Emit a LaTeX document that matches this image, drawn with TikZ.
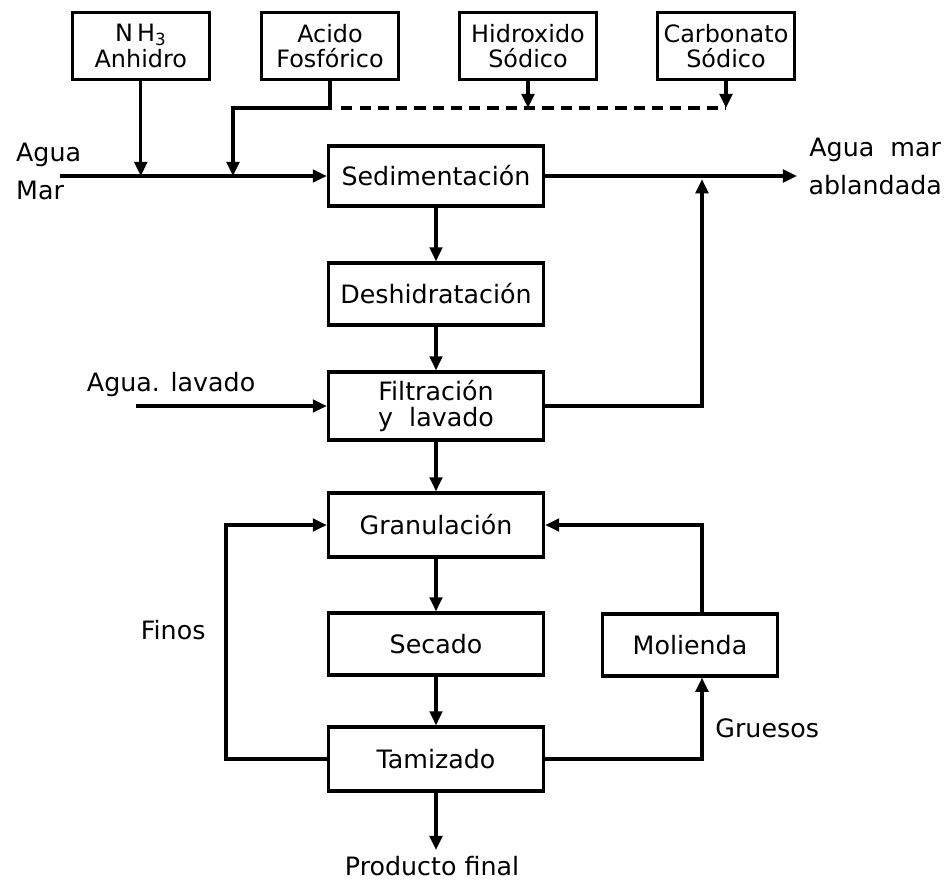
\documentclass[tikz,border=0pt]{standalone}
\usepackage{fontspec}
\setmainfont{DejaVu Sans}
\usetikzlibrary{arrows.meta, positioning}
\tikzset{
  box/.style={rectangle, draw, line width=2.4pt, minimum width=5.375cm,
              minimum height=1.55cm, align=center, inner sep=2pt,
              font=\fontsize{18}{18}\selectfont},
  feed/.style={box, minimum width=3.42cm, minimum height=1.68cm,
               font=\fontsize{17}{18}\selectfont},
  flow/.style={-{Triangle[length=10pt,width=9pt]}, line width=2.2pt},
  pipe/.style={line width=2.2pt},
  lbl/.style={font=\fontsize{18}{27}\selectfont},
}

\begin{document}
\begin{tikzpicture}
        \useasboundingbox (0,0) rectangle (23.8,-22.1);

        % Reactivos
        \node[feed] (nh)     at (3.52,-1.15)  {N\,H\textsubscript{3}\\Anhidro};
        \node[feed] (acido)  at (8.25,-1.15)  {Acido\\Fosfórico};
        \node[feed] (hidrox) at (13.2,-1.15)  {Hidroxido\\Sódico};
        \node[feed] (carbon) at (18.15,-1.15) {Carbonato\\Sódico};

        % Linea principal
        \node[box, minimum height=1.5cm] (sed) at (10.9,-4.4) {Sedimentación};
        \node[box] (desh) at (10.9,-7.35)  {Deshidratación};
        \node[box, minimum height=1.7cm] (filt) at (10.9,-10.15) {Filtración\\y\ \ lavado};
        \node[box, minimum height=1.6cm] (gran) at (10.9,-13.125) {Granulación};
        \node[box] (sec)  at (10.9,-16.1)  {Secado};
        \node[box, minimum height=1.6cm] (tam)  at (10.9,-18.975) {Tamizado};
        \node[box, minimum width=4.375cm] (mol) at (17.25,-16.125) {Molienda};

        % Etiquetas
        \node[lbl, align=left, anchor=west] (lblmar) at (0.28,-4.28) {Agua\\Mar};
        \node[lbl, align=center] (lblout) at (21.88,-4.17) {Agua\ \ mar\\ablandada};
        \node[lbl, anchor=west] (lbllav) at (2.05,-9.62) {Agua. lavado};
        \node[lbl] (lblfinos) at (4.33,-15.75) {Finos};
        \node[lbl] (lblgru) at (19.18,-18.2) {Gruesos};
        \node[lbl] (lblprod) at (10.8,-21.65) {Producto final};

        % Entradas a sedimentacion
        \coordinate (inmar) at (1.5,-4.4);
        \coordinate (bend)  at (8.25,-2.7);
        \coordinate (dashend) at (18.15,-2.7);
        \draw[flow] (inmar) -- (sed.west);
        \draw[flow] (nh.south) -- (nh.south |- sed.west);
        \draw[flow] (acido.south) -- (bend) -| (5.825,-4.4);
        \draw[pipe, dash pattern=on 8pt off 5pt] ([xshift=8pt]bend) -- (dashend);
        \draw[flow] (hidrox.south) -- (hidrox.south |- bend);
        \draw[flow] (carbon.south) -- (dashend);

        % Salida agua ablandada
        \coordinate (outmar) at (19.925,-4.4);
        \draw[flow] (sed.east) -- (outmar);
        \draw[flow] (filt.east) -| (17.55,-4.48);

        % Secuencia vertical
        \draw[flow] (sed) -- (desh);
        \draw[flow] (desh) -- (filt);
        \draw[flow] (3.4,-10.15) -- (filt.west);
        \draw[flow] (filt) -- (gran);
        \draw[flow] (gran) -- (sec);
        \draw[flow] (sec) -- (tam);
        \draw[flow] (tam.south) -- (10.9,-21.25);

        % Reciclos
        \draw[flow] (tam.west) -- (5.65,-18.975) |- (gran.west);
        \draw[flow] (tam.east) -| (mol.south -| 17.55,0);
        \draw[flow] (mol.north -| 17.55,0) |- (gran.east);
\end{tikzpicture}
\end{document}
